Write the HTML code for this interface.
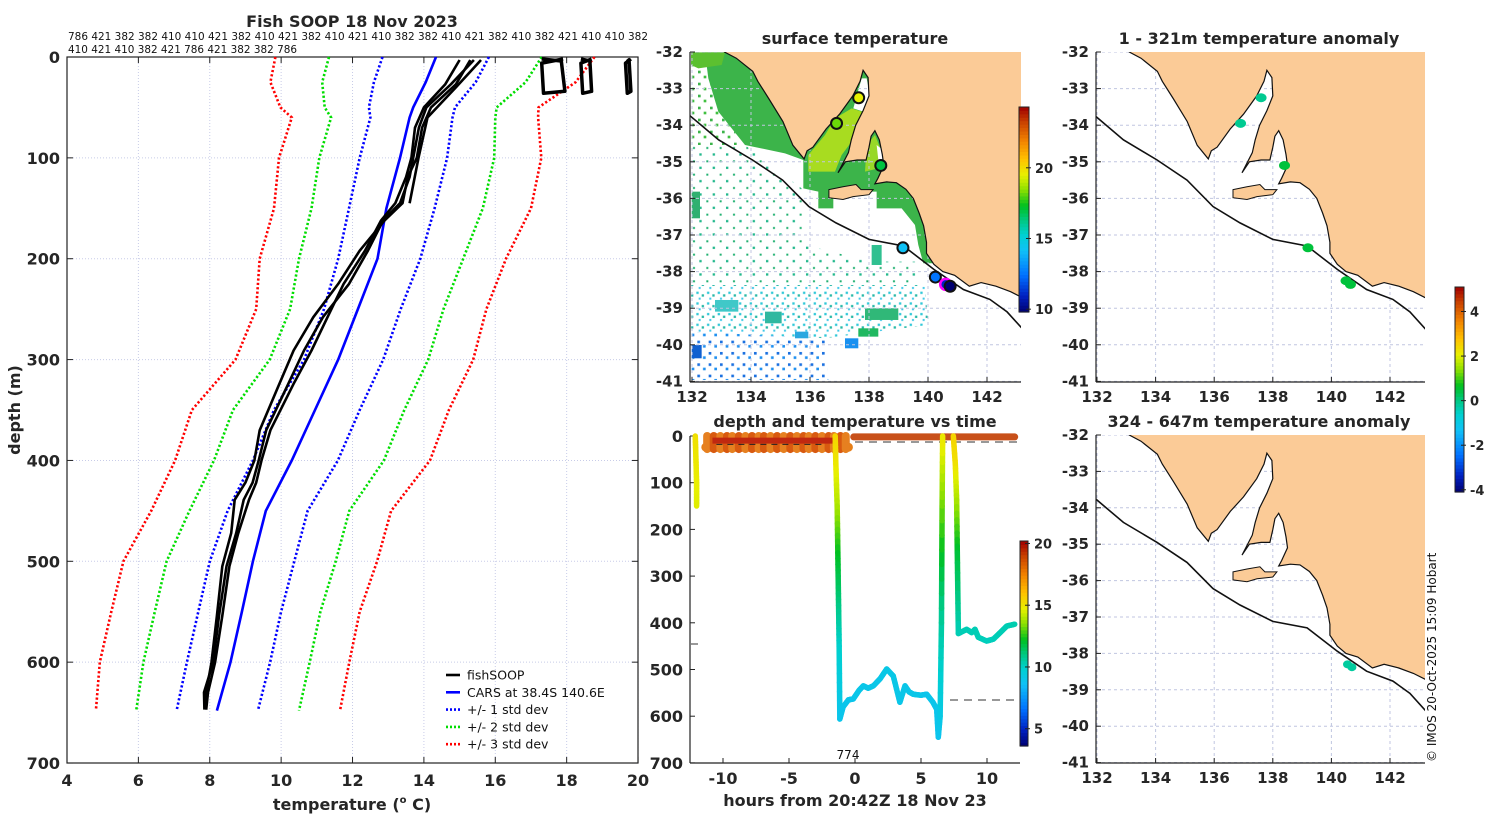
<!DOCTYPE html>
<html><head><meta charset="utf-8">
<style>
body{margin:0;background:#fff;width:1500px;height:820px;overflow:hidden}
svg{display:block}
.t{font-family:"DejaVu Sans","Liberation Sans",sans-serif;font-weight:bold;fill:#262626}
.n{font-family:"DejaVu Sans","Liberation Sans",sans-serif;fill:#111}
</style></head><body>
<svg id="fig" width="1500" height="820" xmlns="http://www.w3.org/2000/svg">
<defs>
<clipPath id="cMid"><rect x="690" y="52" width="331" height="330"/></clipPath>
<clipPath id="cR1"><rect x="1096" y="52" width="329" height="330"/></clipPath>
<clipPath id="cR2"><rect x="1096" y="435" width="329" height="328"/></clipPath>
<pattern id="pTeal" width="40" height="40" patternUnits="userSpaceOnUse"><rect x="3" y="5" width="7" height="7" fill="#22b88c"/><rect x="24" y="26" width="6" height="6" fill="#20b070"/></pattern>
<pattern id="pCyan" width="32" height="32" patternUnits="userSpaceOnUse"><rect x="2" y="4" width="7" height="7" fill="#30c8d8"/><rect x="18" y="12" width="7" height="7" fill="#28b8a8"/><rect x="9" y="22" width="6" height="6" fill="#40c8e8"/></pattern>
<pattern id="pBlue" width="34" height="34" patternUnits="userSpaceOnUse"><rect x="3" y="3" width="8" height="8" fill="#1a70e0"/><rect x="20" y="16" width="8" height="8" fill="#2090f0"/></pattern>
<pattern id="pGreen" width="36" height="36" patternUnits="userSpaceOnUse"><rect x="3" y="5" width="8" height="8" fill="#3cb44a"/><rect x="20" y="20" width="8" height="8" fill="#40c040"/></pattern>
</defs>

<text class="t" x="352" y="27" font-size="16" text-anchor="middle">Fish SOOP 18 Nov 2023</text>
<text class="n" x="68" y="40" font-size="11" textLength="580" lengthAdjust="spacingAndGlyphs" font-family="Liberation Sans">786 421 382 382 410 410 421 382 410 421 382 410 421 410 382 382 410 421 382 410 382 421 410 410 382</text>
<text class="n" x="68" y="53" font-size="11" textLength="229" lengthAdjust="spacingAndGlyphs">410 421 410 382 421 786 421 382 382 786</text>
<text class="t" x="855" y="44" font-size="16" text-anchor="middle">surface temperature</text>
<text class="t" x="1259" y="44" font-size="16" text-anchor="middle">1 - 321m temperature anomaly</text>
<text class="t" x="855" y="427" font-size="16" text-anchor="middle">depth and temperature vs time</text>
<text class="t" x="1259" y="427" font-size="16" text-anchor="middle">324 - 647m temperature anomaly</text>
<text class="t" x="20" y="410" font-size="16" text-anchor="middle" transform="rotate(-90 20 410)">depth (m)</text>
<text class="t" x="352" y="810" font-size="16" text-anchor="middle">temperature (<tspan font-size="10" dy="-7">o</tspan><tspan dy="7"> C)</tspan></text>
<text class="t" x="855" y="806" font-size="16" text-anchor="middle">hours from 20:42Z 18 Nov 23</text>
<text class="n" x="1436" y="762" font-size="12" transform="rotate(-90 1436 762)">© IMOS 20-Oct-2025 15:09 Hobart</text>

<g id="left"></g>
<g id="mid"></g>
<g id="r1"></g>
<g id="r2"></g>
<g id="ts"></g>
<g id="cbars"></g>
</svg>
<script>
// ---------- profile plot data ----------
const depthGrid = [0,25,50,60,100,150,200,250,300,350,400,450,500,550,600,648];
const carsMean = [14.34,14.05,13.7,13.6,13.33,12.95,12.7,12.15,11.6,10.95,10.3,9.57,9.21,8.9,8.58,8.2];
const sdLow = [1.5,1.45,1.24,1.1,1.13,1.05,1.1,0.95,0.96,1.15,1.09,1.07,1.21,1.22,1.22,1.13];
const sdHigh = [1.48,1.4,1.17,1.2,1.32,1.35,1.2,1.2,1.26,1.25,1.29,1.17,1.16,1.1,1.11,1.15];
const profDepth = [3,27,50,70,100,119,145,162,192,225,258,291,324,370,400,422,439,472,505,554,600,630,647];
const prof1 = [15.4,14.76,14.07,13.86,13.7,13.6,13.33,12.86,12.43,11.9,11.17,10.64,10.2,9.58,9.37,9.2,8.95,8.74,8.47,8.26,8.1,7.84,7.85];
const prof2 = [15.3,14.9,14.2,13.95,13.8,13.55,13.4,12.9,12.2,11.6,10.9,10.35,9.95,9.4,9.25,9.0,8.7,8.6,8.35,8.2,8.05,7.9,7.9];
const prof3 = [15.0,14.6,14.0,13.75,13.65,13.5,13.2,12.8,12.35,11.75,11.3,10.85,10.35,9.7,9.45,9.3,9.1,8.8,8.55,8.35,8.15,7.95,7.9];
const shortDepth = [3,30,60,100,145];
const shortTemp = [15.6,14.9,14.1,13.85,13.6];
const shallowDepth = [2,6,36,34,4,2];
const shallow1 = [17.9,17.3,17.35,17.95,17.85,17.3];
const shallow2 = [18.7,18.4,18.45,18.7,18.65,18.4];
const shallow3 = [19.8,19.65,19.7,19.8,19.75,19.7];
const tempTicks = [4,6,8,10,12,14,16,18,20];
const depthTicks = [0,100,200,300,400,500,600,700];

// ---------- time plot data ----------
const castAH = [-12.1,-12.05,-12.0,-12.0];
const castAD = [0,50,100,150];
const castAT = [15.2,15.0,14.8,14.6];
const mainH = [-1.5,-1.45,-1.35,-1.3,-1.25,-1.2,-1.15,-0.9,-0.5,-0.13,0.3,0.63,1.0,1.39,1.9,2.4,2.9,3.4,3.79,4.1,4.42,5.0,5.43,5.9,6.19,6.31,6.45,6.55,6.6,6.64];
const mainD = [0,60,150,250,350,450,606,580,565,563,545,535,540,535,520,499,514,570,535,548,553,555,553,570,585,645,600,400,150,0];
const mainT = [15.5,15.0,14.0,12.3,11.2,10.0,9.0,9.0,9.0,9.0,9.1,9.1,9.1,9.1,9.1,9.2,9.2,9.1,9.1,9.1,9.1,9.1,9.0,9.0,9.0,8.9,9.2,10.6,13.2,15.0];
const lateH = [7.45,7.6,7.7,7.75,7.83,8.46,8.84,9.09,9.34,9.97,10.48,11.0,11.5,12.1];
const lateD = [0,60,137,250,423,414,421,414,431,439,435,421,407,403];
const lateT = [15.5,15.2,14.0,12.0,10.3,10.3,10.3,10.3,10.3,10.2,10.2,10.3,10.3,10.4];
const dipHours = [-11.2,-10.7,-10.2,-9.7,-9.3,-8.8,-8.3,-7.8,-7.3,-6.9,-6.4,-5.9,-5.4,-4.9,-4.4,-3.9,-3.5,-3.0,-2.5,-2.0,-1.6,-1.1,-0.7];
const hourTicks = [-10,-5,0,5,10];

// ---------- map data ----------
const landPoly = [[133.0,-31.8],[133.1,-32],[133.5,-32.17],[134.06,-32.53],[134.23,-32.8],[134.6,-33.27],[135.08,-33.9],[135.42,-34.55],[135.8,-34.92],[135.9,-34.7],[136.1,-34.6],[136.55,-34.1],[137.0,-33.7],[137.45,-33.2],[137.7,-32.8],[137.8,-32.5],[137.97,-32.7],[138.0,-33.2],[137.8,-33.6],[137.55,-34.0],[137.4,-34.4],[137.3,-34.75],[136.95,-35.3],[137.2,-35.0],[137.6,-34.95],[137.9,-34.95],[138.0,-34.6],[138.07,-34.3],[138.2,-34.15],[138.35,-34.4],[138.45,-34.8],[138.5,-35.1],[138.3,-35.45],[138.2,-35.6],[138.6,-35.55],[138.93,-35.57],[139.25,-35.75],[139.5,-36.0],[139.7,-36.4],[139.85,-36.75],[139.95,-37.2],[139.95,-37.5],[140.2,-37.8],[140.5,-38.0],[140.9,-38.1],[141.4,-38.4],[141.8,-38.3],[142.3,-38.4],[142.8,-38.55],[143.3,-38.75],[143.6,-38.8],[143.6,-31.8]];
const islandPoly = [[136.64,-35.76],[137.12,-35.68],[137.56,-35.62],[137.73,-35.76],[138.14,-35.76],[138.0,-35.9],[137.46,-35.95],[137.12,-36.03],[136.64,-35.98]];
const shelfLine = [[131.9,-33.72],[132.9,-34.4],[134.05,-34.95],[135.07,-35.5],[135.96,-36.22],[136.88,-36.67],[138.0,-37.12],[139.17,-37.3],[140.2,-37.94],[141.2,-38.49],[142.1,-38.76],[142.68,-39.1],[143.3,-39.65]];
const lonTicks = [132,134,136,138,140,142];
const latTicks = [-32,-33,-34,-35,-36,-37,-38,-39,-40,-41];
const sstMarkLon = [137.65,136.9,138.4,139.15,140.25,140.6,140.75];
const sstMarkLat = [-33.25,-33.95,-35.1,-37.35,-38.15,-38.35,-38.4];
const sstMarkT = [19.5,18.2,17.0,14.2,12.5,11.0,9.8];
const anomLon = [137.6,136.9,138.4,139.2,140.5,140.65];
const anomLat = [-33.25,-33.95,-35.1,-37.35,-38.25,-38.35];
const anomV = [-0.1,-0.1,0.5,0.5,0.5,0.5];
const anom2Lon = [140.55,140.7];
const anom2Lat = [-38.3,-38.38];
const anom2V = [-0.2,-0.2];

// ---------- colormap ----------
const cmStops = [[0,'#000070'],[0.08,'#0020c0'],[0.18,'#0070ff'],[0.3,'#10c0f8'],[0.38,'#00d0d0'],[0.45,'#00c880'],[0.52,'#00c020'],[0.6,'#90e000'],[0.67,'#e8f000'],[0.75,'#ffc000'],[0.84,'#f08000'],[0.93,'#c84000'],[1,'#a00000']];
function hx(c){return [parseInt(c.substr(1,2),16),parseInt(c.substr(3,2),16),parseInt(c.substr(5,2),16)];}
function cmap(f){f=Math.max(0,Math.min(1,f));for(let i=1;i<cmStops.length;i++){if(f<=cmStops[i][0]){const a=cmStops[i-1],b=cmStops[i];const t=(f-a[0])/(b[0]-a[0]);const A=hx(a[1]),B=hx(b[1]);return 'rgb('+A.map((v,k)=>Math.round(v+(B[k]-v)*t)).join(',')+')';}}return cmStops[cmStops.length-1][1];}

const NS='http://www.w3.org/2000/svg';
function mk(tag,parent,attrs){const e=document.createElementNS(NS,tag);for(const k in attrs)e.setAttribute(k,attrs[k]);parent.appendChild(e);return e;}
function pts(arr){return arr.map(p=>p[0].toFixed(1)+','+p[1].toFixed(1)).join(' ');}

// ================= LEFT PROFILE PLOT =================
const L=document.getElementById('left');
const X=t=>67+(t-4)*35.69, Y=d=>57+d*1.0086;
tempTicks.forEach(t=>{
  const g=mk('line',L,{x1:X(t),x2:X(t),y1:57,y2:763,stroke:'#c8cce8','stroke-width':1,'stroke-dasharray':'1,2'});
  
  
  mk('line',L,{x1:X(t),x2:X(t),y1:57,y2:63,stroke:'#222'});
  mk('line',L,{x1:X(t),x2:X(t),y1:757,y2:763,stroke:'#222'});
  const lb=mk('text',L,{x:X(t),y:786,'text-anchor':'middle','font-size':16,class:'t'});lb.textContent=t;
  
  
});
depthTicks.forEach(d=>{
  const g=mk('line',L,{x1:67,x2:638,y1:Y(d),y2:Y(d),stroke:'#c8cce8','stroke-width':1,'stroke-dasharray':'1,2'});
  
  
  mk('line',L,{x1:67,x2:73,y1:Y(d),y2:Y(d),stroke:'#222'});
  mk('line',L,{x1:632,x2:638,y1:Y(d),y2:Y(d),stroke:'#222'});
  const lb=mk('text',L,{x:60,y:Y(d)+6,'text-anchor':'end','font-size':16,class:'t'});lb.textContent=d;
  
  
});
const frame=mk('rect',L,{x:67,y:57,width:571,height:706,fill:'none',stroke:'#222','stroke-width':1.2});


const sdCols=['#0000ff','#00dd00','#ff0000'];
[1,2,3].forEach(k=>{
  ['low','high'].forEach(side=>{
    const p=depthGrid.map((d,i)=>[X(side==='low'?carsMean[i]-k*sdLow[i]:carsMean[i]+k*sdHigh[i]),Y(d)]);
    const l=mk('polyline',L,{points:pts(p),fill:'none',stroke:sdCols[k-1],'stroke-width':2.6,'stroke-dasharray':'2.2,2.2'});
    
    
  });
});
const cars=mk('polyline',L,{points:pts(depthGrid.map((d,i)=>[X(carsMean[i]),Y(d)])),fill:'none',stroke:'#0000ff','stroke-width':2.6});


[prof1,prof2,prof3].forEach((pr,j)=>{
  const l=mk('polyline',L,{points:pts(profDepth.map((d,i)=>[X(pr[i]),Y(d)])),fill:'none',stroke:'#000','stroke-width':2.6,'stroke-linejoin':'round'});
  
  
});
const sp=mk('polyline',L,{points:pts(shortDepth.map((d,i)=>[X(shortTemp[i]),Y(d)])),fill:'none',stroke:'#000','stroke-width':2.6});


[shallow1,shallow2,shallow3].forEach((pr,j)=>{
  const l=mk('polyline',L,{points:pts(shallowDepth.map((d,i)=>[X(pr[i]),Y(d)])),fill:'none',stroke:'#000','stroke-width':3.5,'stroke-linejoin':'round'});
  
  
});
const legItems=[['fishSOOP','#000',''],['CARS at 38.4S 140.6E','#0000ff',''],['+/- 1 std dev','#0000ff','2,2'],['+/- 2 std dev','#00dd00','2,2'],['+/- 3 std dev','#ff0000','2,2']];
legItems.forEach((it,i)=>{
  const y=675+i*17.3;
  const ln=mk('line',L,{x1:446,x2:460,y1:y,y2:y,stroke:it[1],'stroke-width':2.6,'stroke-dasharray':it[2]||'none'});
  
  
  const tx=mk('text',L,{x:467,y:y+4.5,'font-size':12.5,class:'n'});tx.textContent=it[0];
  
  
});

// ================= MAPS =================
function drawMap(G,x0,y0,kx,ky,clip,box,isMid){
  const P=(lon,lat)=>[x0+(lon-132)*kx,y0+(-32-lat)*ky];
  const inner=mk('g',G,{'clip-path':'url(#'+clip+')'});
  if(isMid){
    const img=mk('g',inner,{transform:'translate(685,45) scale(0.3333)'});
    
    
    mk('polygon',img,{points:'18,22 60,22 70,100 100,200 180,300 18,300',fill:'url(#pGreen)'});
    mk('polygon',img,{points:'18,300 180,300 350,430 360,600 560,650 700,650 700,720 18,720',fill:'url(#pTeal)'});
    mk('polygon',img,{points:'18,720 720,720 730,840 420,880 18,860',fill:'url(#pCyan)'});
    mk('polygon',img,{points:'18,860 420,880 430,1005 18,1005',fill:'url(#pBlue)'});
    mk('polygon',img,{points:'60,22 1000,22 1000,400 760,600 760,655 715,655 700,600 690,540 650,490 575,490 575,440 445,440 445,490 400,490 400,440 355,430 355,345 300,325 180,300 100,200 70,100',fill:'#3cb44a'});
    mk('polygon',img,{points:'18,22 120,22 110,60 40,70 18,60',fill:'#5cc030'});
    mk('polygon',img,{points:'370,330 420,270 450,220 500,190 530,200 525,240 500,290 470,330 450,380 370,380',fill:'#a8dc20'});
    mk('polygon',img,{points:'545,300 570,270 590,320 580,370 540,380',fill:'#98d828'});
    mk('polygon',img,{points:'505,190 530,100 545,100 555,150 535,200',fill:'#fff'});
    mk('polygon',img,{points:'575,300 600,320 600,345 580,345',fill:'#fff'});
    [[90,765,70,35,'#40c8c8'],[240,800,50,35,'#30b8a0'],[540,790,100,35,'#30b878'],[520,850,60,25,'#20b860'],[480,880,40,30,'#1890f0'],[560,600,30,60,'#30c090'],[20,440,25,80,'#30b070'],[20,900,30,40,'#1060d0'],[330,860,40,20,'#2aa8e0']].forEach(r=>{
      mk('rect',img,{x:r[0],y:r[1],width:r[2],height:r[3],fill:r[4]});
    });
  }
  lonTicks.forEach(l=>{const p=P(l,-32);mk('line',inner,{x1:p[0],x2:p[0],y1:box[1],y2:box[1]+box[3],stroke:'#c0c6e0','stroke-dasharray':'3,3'});});
  latTicks.forEach(l=>{const p=P(132,l);mk('line',inner,{x1:box[0],x2:box[0]+box[2],y1:p[1],y2:p[1],stroke:'#c0c6e0','stroke-dasharray':'3,3'});});
  const land=mk('polygon',inner,{points:pts(landPoly.map(q=>P(q[0],q[1]))),fill:'#fbcb97',stroke:'#111','stroke-width':1.2});
  
  
  const isl=mk('polygon',inner,{points:pts(islandPoly.map(q=>P(q[0],q[1]))),fill:'#fbcb97',stroke:'#111','stroke-width':1});
  
  
  const sh=mk('polyline',inner,{points:pts(shelfLine.map(q=>P(q[0],q[1]))),fill:'none',stroke:'#111','stroke-width':1.6});
  
  
  mk('line',G,{x1:box[0],x2:box[0],y1:box[1],y2:box[1]+box[3],stroke:'#222','stroke-width':1.2});
  mk('line',G,{x1:box[0],x2:box[0]+box[2],y1:box[1]+box[3],y2:box[1]+box[3],stroke:'#222','stroke-width':1.2});
  lonTicks.forEach(l=>{const p=P(l,-32);
    mk('line',G,{x1:p[0],x2:p[0],y1:box[1]+box[3]-5,y2:box[1]+box[3],stroke:'#222'});
    const t=mk('text',G,{x:p[0],y:box[1]+box[3]+20,'text-anchor':'middle','font-size':15,class:'t'});t.textContent=l;
    
    });
  latTicks.forEach(l=>{const p=P(132,l);
    mk('line',G,{x1:box[0],x2:box[0]+5,y1:p[1],y2:p[1],stroke:'#222'});
    const t=mk('text',G,{x:box[0]-7,y:p[1]+5,'text-anchor':'end','font-size':15,class:'t'});t.textContent=l;
    
    });
  return {P,inner};
}
const mid=drawMap(document.getElementById('mid'),692,52,29.5,36.6,'cMid',[690,52,331,330],true);
sstMarkLon.forEach((lon,i)=>{const p=mid.P(lon,sstMarkLat[i]);
  const c=mk('circle',mid.inner,{cx:p[0],cy:p[1],r:5.5,fill:cmap((sstMarkT[i]-9.8)/14.5),stroke:i==5?'#ff00ff':'#111','stroke-width':i==5?2.5:2});
  
  });
const r1=drawMap(document.getElementById('r1'),1097,52,29.3,36.6,'cR1',[1096,52,329,330],false);
anomLon.forEach((lon,i)=>{const p=r1.P(lon,anomLat[i]);
  const c=mk('ellipse',r1.inner,{cx:p[0],cy:p[1],rx:5.5,ry:4.5,fill:cmap((anomV[i]+4.1)/9.2)});
  
  });
const r2=drawMap(document.getElementById('r2'),1097,435,29.3,36.4,'cR2',[1096,435,329,328],false);
anom2Lon.forEach((lon,i)=>{const p=r2.P(lon,anom2Lat[i]);
  const c=mk('ellipse',r2.inner,{cx:p[0],cy:p[1],rx:4.5,ry:4,fill:cmap((anom2V[i]+4.1)/9.2)});
  
  });

// ================= TIME PLOT =================
const T=document.getElementById('ts');
const HX=h=>855+h*13.2, HY=d=>436+d*0.467;
const tcol=t=>cmap((t-3.6)/16.6);
hourTicks.forEach(h=>{
  mk('line',T,{x1:HX(h),x2:HX(h),y1:758,y2:763,stroke:'#222'});
  const t=mk('text',T,{x:HX(h),y:784,'text-anchor':'middle','font-size':16,class:'t'});t.textContent=h;
  
  
});
depthTicks.forEach(d=>{
  mk('line',T,{x1:690,x2:695,y1:HY(d),y2:HY(d),stroke:'#222'});
  const t=mk('text',T,{x:683,y:HY(d)+6,'text-anchor':'end','font-size':16,class:'t'});t.textContent=d;
  
  
});
mk('line',T,{x1:690,x2:690,y1:436,y2:763,stroke:'#222','stroke-width':1.2});
mk('line',T,{x1:690,x2:1020,y1:763,y2:763,stroke:'#222','stroke-width':1.2});
[[855,1020,442],[950,1020,700],[690,698,644]].forEach(s=>{
  const l=mk('line',T,{x1:s[0],x2:s[1],y1:s[2],y2:s[2],stroke:'#777','stroke-width':1.5,'stroke-dasharray':'8,6'});
  
  
});
const band=mk('line',T,{x1:HX(-11.3),x2:HX(-0.5),y1:HY(24),y2:HY(24),stroke:'#e67e18','stroke-width':9,'stroke-linecap':'round'});


dipHours.forEach((h,i)=>{
  const l=mk('line',T,{x1:HX(h),x2:HX(h),y1:HY(0),y2:HY(28),stroke:i%2?'#d85a10':'#e68020','stroke-width':8,'stroke-linecap':'round'});
  
  
});
mk('line',T,{x1:HX(-10.8),x2:HX(-1.3),y1:HY(10),y2:HY(10),stroke:'#c02810','stroke-width':6});
mk('line',T,{x1:HX(-10.5),x2:HX(-2.5),y1:HY(18),y2:HY(18),stroke:'#222','stroke-width':1,'stroke-dasharray':'6,5'});
const surf=mk('line',T,{x1:HX(-0.1),x2:HX(12.1),y1:HY(2),y2:HY(2),stroke:'#c8501a','stroke-width':7,'stroke-linecap':'round'});


function trace(H,D,Tm,name){
  for(let i=0;i<H.length-1;i++){
    const n=8;
    for(let k=0;k<n;k++){
      const a=k/n,b=(k+1)/n;
      const h1=H[i]+(H[i+1]-H[i])*a,h2=H[i]+(H[i+1]-H[i])*b;
      const d1=D[i]+(D[i+1]-D[i])*a,d2=D[i]+(D[i+1]-D[i])*b;
      const tm=Tm[i]+(Tm[i+1]-Tm[i])*(a+b)/2;
      const l=mk('line',T,{x1:HX(h1),x2:HX(h2),y1:HY(d1),y2:HY(d2),stroke:tcol(tm),'stroke-width':5.5,'stroke-linecap':'round'});
      
      
    }
  }
}
trace(castAH,castAD,castAT,'cast-segment');
trace(mainH,mainD,mainT,'deep-trace-segment');
trace(lateH,lateD,lateT,'late-trace-segment');
const lab=mk('text',T,{x:848,y:759,'text-anchor':'middle','font-size':12,class:'n'});lab.textContent='774';



// ================= COLORBARS =================
const C=document.getElementById('cbars');
function cbar(x,y,w,h,vmin,vmax,ticks,name){
  const n=60;
  for(let i=0;i<n;i++){
    mk('rect',C,{x:x,y:y+h-(i+1)*h/n,width:w,height:h/n+0.6,fill:cmap((i+0.5)/n)});
  }
  const fr=mk('rect',C,{x:x,y:y,width:w,height:h,fill:'none',stroke:'#222','stroke-width':1});
  
  
  ticks.forEach(v=>{const yy=y+h-(v-vmin)/(vmax-vmin)*h;
    mk('line',C,{x1:x+w-3,x2:x+w+2,y1:yy,y2:yy,stroke:'#222'});
    const t=mk('text',C,{x:x+w+6,y:yy+5,'font-size':13,class:'t'});t.textContent=v;
    
    });
}
cbar(1019,107,10,205,9.8,24.3,[10,15,20],'sst-colorbar');
cbar(1020,541,8,205,3.6,20.2,[5,10,15,20],'time-colorbar');
cbar(1455,287,9,205,-4.1,5.1,[-4,-2,0,2,4],'anomaly-colorbar');
</script>
</body></html>
